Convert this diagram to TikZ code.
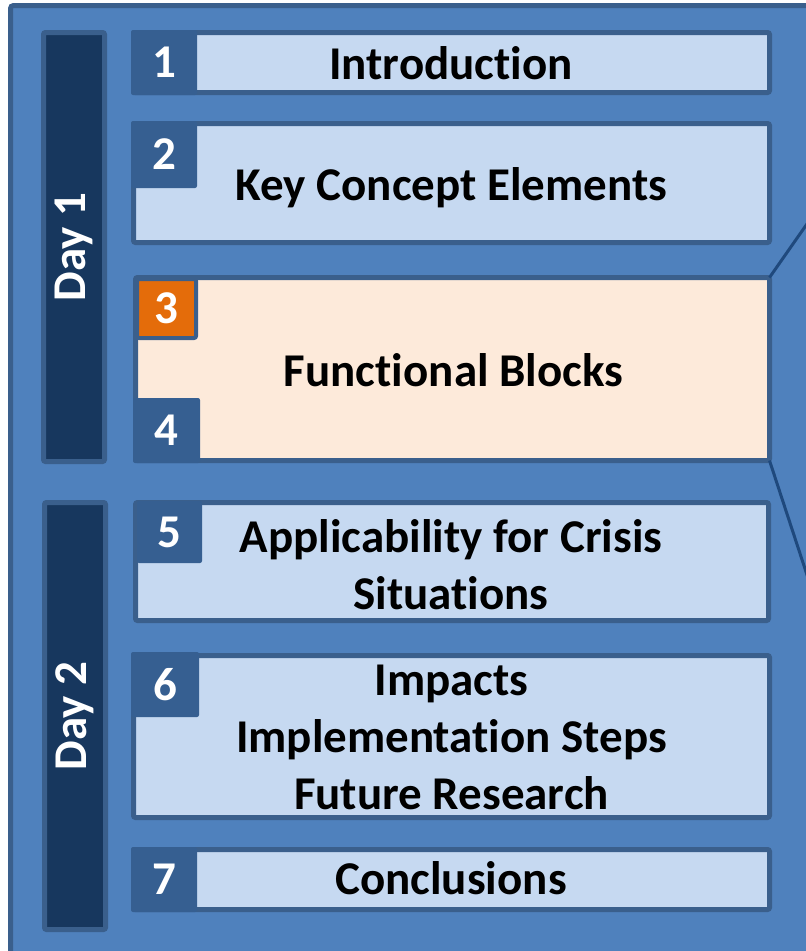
\documentclass[tikz,border=0pt]{standalone}
\usepackage{fontspec}
\setmainfont{Carlito}[Ligatures={NoCommon,NoContextual}]
\definecolor{paneblue}{HTML}{4F81BD}
\definecolor{edgeblue}{HTML}{3A5F8C}
\definecolor{tabblue}{HTML}{365F91}
\definecolor{daynavy}{HTML}{17375E}
\definecolor{boxblue}{HTML}{C6D9F1}
\definecolor{boxpeach}{HTML}{FDEADA}
\definecolor{taborange}{HTML}{E46C0A}
\definecolor{linkblue}{HTML}{1F497D}

\begin{document}
\begin{tikzpicture}[x=1pt, y=-1pt,
    every node/.style={inner sep=0pt, outer sep=0pt},
    section/.style={draw=edgeblue, line width=5pt, fill=boxblue, rounded corners=2pt, minimum width=636pt},
    sectitle/.style={align=center, font=\fontsize{47}{57}\selectfont\bfseries,
      execute at begin node=\strut, execute at end node=\strut},
    numtab/.style={fill=tabblue, rounded corners=2pt, text=white, font=\fontsize{47}{57}\selectfont\bfseries},
    daybar/.style={draw=edgeblue, line width=5pt, fill=daynavy, rounded corners=2pt, rotate=90,
      minimum height=61pt, text=white, font=\fontsize{47}{57}\selectfont\bfseries},
    zoomline/.style={draw=linkblue, line width=3pt}]
  \useasboundingbox (0,0) rectangle (806,951);
  \clip (0,0) rectangle (806,951);
  \draw[draw=edgeblue, fill=paneblue, line width=5pt, rounded corners=3pt] (10.5,5.5) rectangle (900,1050);

  \node[daybar, minimum width=429pt] (day1) at (74,247) {Day 1};
  \node[daybar, minimum width=427pt] (day2) at (75,716) {Day 2};

  \node[section, minimum height=60pt] (intro) at (451.5,62.5) {};
  \node[section, minimum height=119pt] (concepts) at (451.5,183) {};
  \node[section, fill=boxpeach, minimum width=634pt, minimum height=183pt] (blocks) at (452.5,369) {};
  \node[section, minimum width=633pt, minimum height=118pt] (crisis) at (452,561.5) {};
  \node[section, minimum height=162pt] (impacts) at (451.5,736.5) {};
  \node[section, minimum height=60pt] (concl) at (451.5,879.5) {};

  \node[numtab, minimum width=66pt, minimum height=65pt] (n1) at (164,62.5) {1};
  \node[numtab, minimum width=66pt, minimum height=67pt] (n2) at (164,154.5) {2};
  \node[numtab, fill=taborange, draw=edgeblue, line width=4pt, minimum size=59pt] (n3) at (166.5,308.5) {3};
  \node[numtab, minimum width=67pt, minimum height=65pt] (n4) at (166.5,430.5) {4};
  \node[numtab, minimum width=65pt, minimum height=62pt] (n5) at (169.5,532) {5};
  \node[numtab, minimum width=68pt, minimum height=65pt] (n6) at (165,684.5) {6};
  \node[numtab, minimum width=66pt, minimum height=65pt] (n7) at (164,879.5) {7};

  \node[sectitle] (intro-t) at (451,67.6) {Introduction};
  \node[sectitle] (concepts-t) at (451.5,188.6) {Key Concept Elements};
  \node[sectitle] (blocks-t) at (453.5,374.6) {Functional Blocks};
  \node[sectitle] (crisis-t) at (451,572.6) {Applicability for Crisis\\Situations};
  \node[sectitle] (impacts-t) at (451.5,745.4) {Impacts\\Implementation Steps\\Future Research};
  \node[sectitle] (concl-t) at (451,883.2) {Conclusions};

  \coordinate (up) at (830,191);
  \coordinate (down) at (830,645);
  \draw[zoomline] (blocks.north east) -- (up);
  \draw[zoomline] (blocks.south east) -- (down);
\end{tikzpicture}
\end{document}
